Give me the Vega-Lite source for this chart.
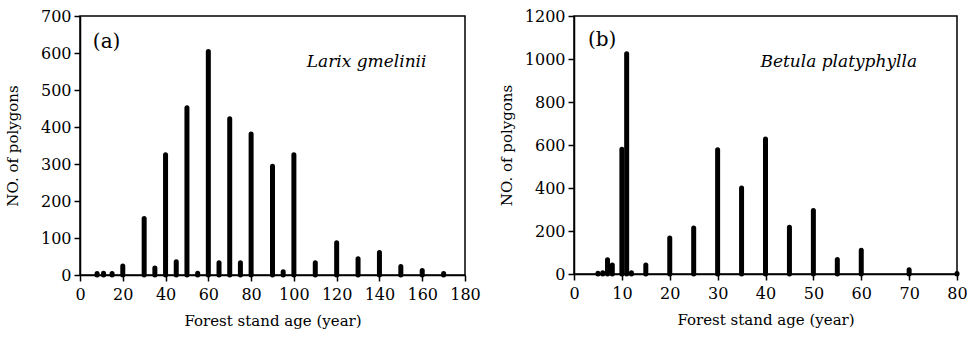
{
  "$schema": "https://vega.github.io/schema/vega-lite/v6.json",
  "background": "white",
  "padding": {"left": 4, "top": 7, "right": 0, "bottom": 0},
  "spacing": 16,
  "config": {
    "font": "DejaVu Serif",
    "view": {"stroke": "black", "strokeWidth": 1.5},
    "axis": {
      "grid": false,
      "domainColor": "black",
      "domainWidth": 1.5,
      "tickColor": "black",
      "tickWidth": 1.5,
      "tickSize": 6,
      "labelColor": "black",
      "labelFont": "DejaVu Serif",
      "labelFontSize": 16,
      "labelPadding": 3,
      "labelOverlap": false,
      "labelFlush": false,
      "format": "d",
      "titleColor": "black",
      "titleFont": "DejaVu Serif",
      "titleFontSize": 15,
      "titleFontWeight": "normal"
    },
    "axisX": {"labelPadding": 5},
    "text": {"font": "DejaVu Serif", "color": "black", "baseline": "middle"}
  },
  "hconcat": [
    {
      "width": 385,
      "height": 259,
      "encoding": {
        "x": {
          "field": "age", "type": "quantitative",
          "scale": {"domain": [0, 180], "nice": false},
          "axis": {"values": [0, 20, 40, 60, 80, 100, 120, 140, 160, 180], "title": "Forest stand age (year)", "titlePadding": 11}
        },
        "y": {
          "field": "n", "type": "quantitative",
          "scale": {"domain": [0, 700], "nice": false},
          "axis": {"values": [0, 100, 200, 300, 400, 500, 600, 700], "title": "NO. of polygons", "titlePadding": 20}
        }
      },
      "layer": [
        {
          "data": {"values": [
            {"age": 8, "n": 4}, {"age": 11, "n": 5}, {"age": 15, "n": 4},
            {"age": 20, "n": 24}, {"age": 30, "n": 153}, {"age": 35, "n": 19},
            {"age": 40, "n": 325}, {"age": 45, "n": 36}, {"age": 50, "n": 452},
            {"age": 55, "n": 5}, {"age": 60, "n": 604}, {"age": 65, "n": 33},
            {"age": 70, "n": 422}, {"age": 75, "n": 33}, {"age": 80, "n": 381},
            {"age": 90, "n": 294}, {"age": 95, "n": 9}, {"age": 100, "n": 325},
            {"age": 110, "n": 33}, {"age": 120, "n": 87}, {"age": 130, "n": 44},
            {"age": 140, "n": 61}, {"age": 150, "n": 23}, {"age": 160, "n": 12},
            {"age": 170, "n": 4}
          ]},
          "mark": {"type": "rule", "color": "black", "strokeWidth": 5, "strokeCap": "round"},
          "encoding": {"y2": {"datum": 0}}
        },
        {
          "data": {"values": [{"age": 6, "n": 630, "t": "(a)"}]},
          "mark": {"type": "text", "align": "left", "fontSize": 20},
          "encoding": {"text": {"field": "t"}}
        },
        {
          "data": {"values": [{"age": 134, "n": 575, "t": "Larix gmelinii"}]},
          "mark": {"type": "text", "align": "center", "fontSize": 17, "fontStyle": "italic"},
          "encoding": {"text": {"field": "t"}}
        }
      ]
    },
    {
      "width": 383,
      "height": 258,
      "encoding": {
        "x": {
          "field": "age", "type": "quantitative",
          "scale": {"domain": [0, 80], "nice": false},
          "axis": {"values": [0, 10, 20, 30, 40, 50, 60, 70, 80], "title": "Forest stand age (year)", "titlePadding": 11}
        },
        "y": {
          "field": "n", "type": "quantitative",
          "scale": {"domain": [0, 1200], "nice": false},
          "axis": {"values": [0, 200, 400, 600, 800, 1000, 1200], "title": "NO. of polygons", "titlePadding": 10}
        }
      },
      "layer": [
        {
          "data": {"values": [
            {"age": 5, "n": 3}, {"age": 6, "n": 6}, {"age": 7, "n": 66},
            {"age": 8, "n": 42}, {"age": 10, "n": 580}, {"age": 11, "n": 1025},
            {"age": 12, "n": 6}, {"age": 15, "n": 42}, {"age": 20, "n": 168},
            {"age": 25, "n": 214}, {"age": 30, "n": 578}, {"age": 35, "n": 400},
            {"age": 40, "n": 628}, {"age": 45, "n": 218}, {"age": 50, "n": 295},
            {"age": 55, "n": 68}, {"age": 60, "n": 110}, {"age": 70, "n": 20},
            {"age": 80, "n": 2}
          ]},
          "mark": {"type": "rule", "color": "black", "strokeWidth": 5, "strokeCap": "round"},
          "encoding": {"y2": {"datum": 0}}
        },
        {
          "data": {"values": [{"age": 2.9, "n": 1088, "t": "(b)"}]},
          "mark": {"type": "text", "align": "left", "fontSize": 20},
          "encoding": {"text": {"field": "t"}}
        },
        {
          "data": {"values": [{"age": 55.3, "n": 985, "t": "Betula platyphylla"}]},
          "mark": {"type": "text", "align": "center", "fontSize": 17, "fontStyle": "italic"},
          "encoding": {"text": {"field": "t"}}
        }
      ]
    }
  ]
}
